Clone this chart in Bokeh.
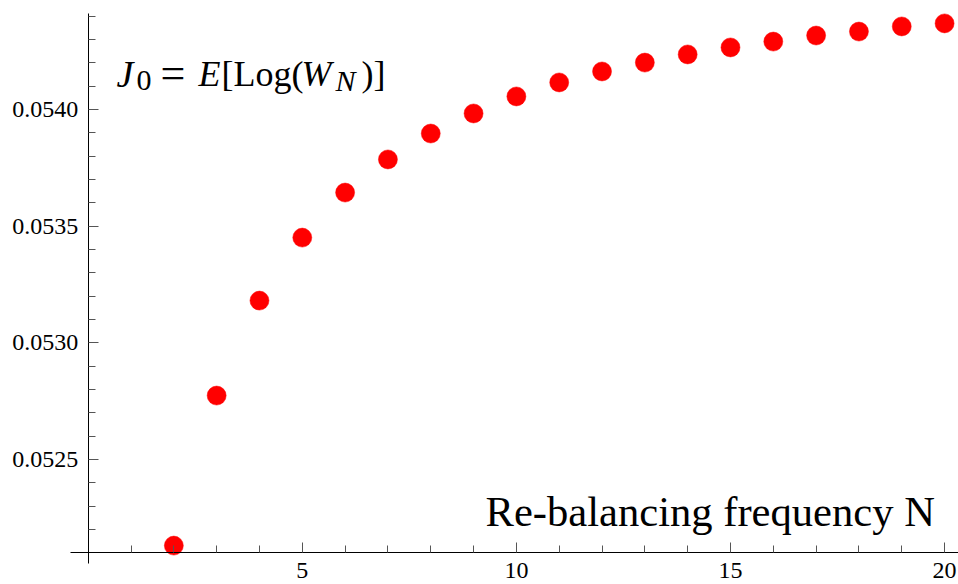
from bokeh.plotting import figure
from bokeh.models import Range1d, FixedTicker, PrintfTickFormatter, Label, LinearAxis
from bokeh.embed import file_html
from bokeh.resources import INLINE

# ---- data ----
N = [2, 3, 4, 5, 6, 7, 8, 9, 10, 11, 12, 13, 14, 15, 16, 17, 18, 19, 20]
J0 = [0.052131, 0.052774, 0.053181, 0.053451, 0.053644, 0.053786, 0.053897,
      0.053983, 0.054056, 0.054116, 0.054163, 0.054201, 0.054236, 0.054266,
      0.054291, 0.054317, 0.054334, 0.054356, 0.054369]

x_major = [5, 10, 15, 20]
x_minor = [1, 2, 3, 4, 6, 7, 8, 9, 11, 12, 13, 14, 16, 17, 18, 19]
y_major = [0.0525, 0.0530, 0.0535, 0.0540]
y_minor = [0.0522, 0.0523, 0.0524, 0.0526, 0.0527, 0.0528, 0.0529,
           0.0531, 0.0532, 0.0533, 0.0534, 0.0536, 0.0537, 0.0538,
           0.0539, 0.0541, 0.0542, 0.0543, 0.0544]
x_cross = 0
y_cross = 0.0521
x_axis_extent = (-0.413, 20.325)
y_axis_extent = (0.052054, 0.054411)

FONT = "Liberation Serif"
W, H = 958, 584
XR = (-2.048, 20.325)
YR = (0.0519643, 0.0544671)

p = figure(width=W, height=H, output_backend="svg", toolbar_location=None,
           x_range=Range1d(*XR), y_range=Range1d(*YR),
           x_axis_location=None, y_axis_location=None,
           min_border_left=0, min_border_right=0, min_border_top=0,
           min_border_bottom=0)
p.outline_line_color = None
p.xgrid.visible = False
p.ygrid.visible = False
p.background_fill_color = "white"
p.border_fill_color = "white"

xaxis = LinearAxis(fixed_location=y_cross, bounds=x_axis_extent,
                   ticker=FixedTicker(ticks=x_major, minor_ticks=x_minor))
yaxis = LinearAxis(fixed_location=x_cross, bounds=y_axis_extent,
                   ticker=FixedTicker(ticks=y_major, minor_ticks=y_minor),
                   formatter=PrintfTickFormatter(format="%.4f"))
for ax in (xaxis, yaxis):
    ax.axis_line_color = "black"
    ax.axis_line_width = 1
    ax.major_tick_in = 10
    ax.major_tick_out = 0
    ax.minor_tick_in = 7
    ax.minor_tick_out = 0
    ax.major_tick_line_color = "#555555"
    ax.minor_tick_line_color = "#555555"
    ax.major_label_text_font = FONT
    ax.major_label_text_font_size = "24px"
    ax.major_label_text_color = "black"
xaxis.major_label_standoff = 10
yaxis.major_label_standoff = 10
p.add_layout(xaxis, "below")
p.add_layout(yaxis, "left")

p.scatter(N, J0, size=19, fill_color="#ff0000", line_color="#ff0000",
          line_width=0.5)


# annotation positions given in canvas pixels, mapped into data space
def px(x):
    return XR[0] + x / W * (XR[1] - XR[0])


def py(y):
    return YR[1] - y / H * (YR[1] - YR[0])


def lab(text, x, y, size, italic=False):
    p.add_layout(Label(x=px(x), y=py(y), text=text, text_font=FONT,
                       text_font_size=size,
                       text_font_style="italic" if italic else "normal",
                       text_color="black", text_align="left",
                       text_baseline="alphabetic"))


lab("J", 116, 73, "38px", True)
lab("0", 136, 80, "30px")
lab("=", 160, 73, "44px")
lab("E", 198, 73, "36px", True)
lab("[Log(", 221, 73, "36px")
lab("W", 301, 73, "36px", True)
lab("N", 335, 80, "30px", True)
lab(")]", 361, 73, "36px")

lab("Re-balancing frequency N", 485, 511, "42.6px")

open("out.html", "w").write(file_html(p, INLINE))
